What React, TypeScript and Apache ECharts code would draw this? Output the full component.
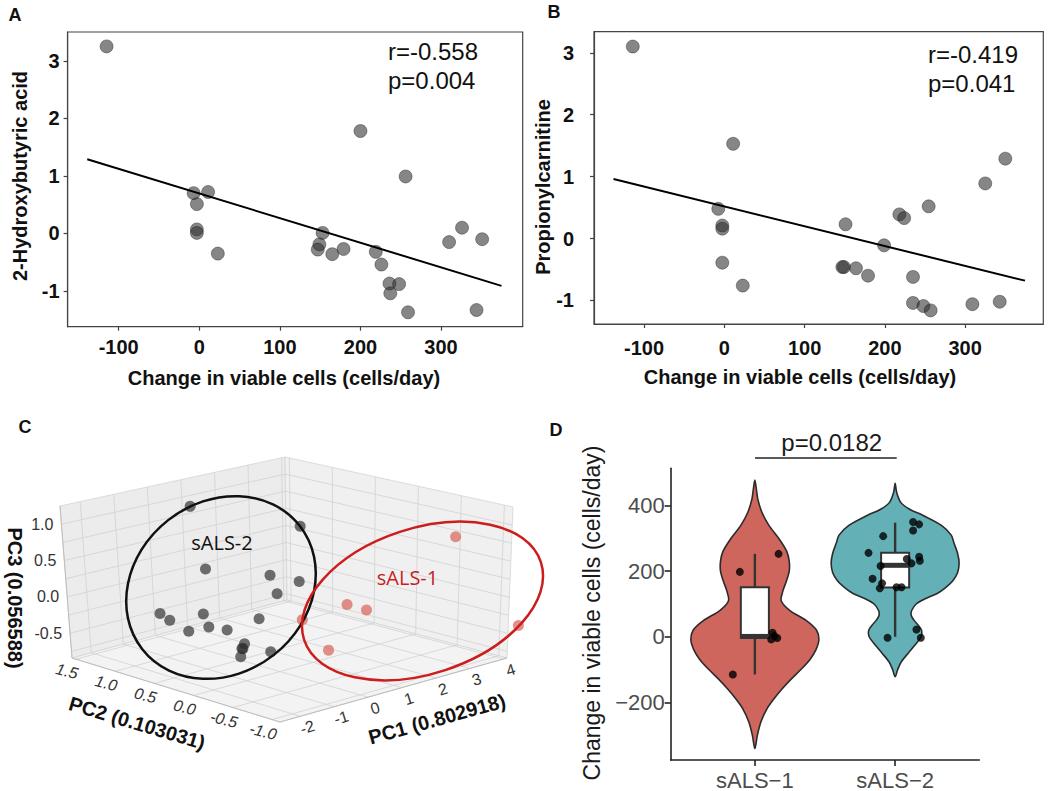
import React, { useEffect, useRef } from 'react';
import * as echarts from 'echarts';

const FONT = '"Liberation Sans", Arial, sans-serif';
const FONT2 = '"Open Sans", "Noto Sans", sans-serif';

// ---------------- Panel A ----------------
const A_X = [-115, 200, 256, -7, 11, -3, -3, -3, 23, 153, 149, 147, 165, 179, 219, 226, 236, 248, 237, 259, 310, 326, 351, 344];
const A_Y = [3.25, 1.78, 0.99, 0.7, 0.72, 0.51, 0.07, 0.01, -0.35, 0.01, -0.19, -0.28, -0.36, -0.27, -0.32, -0.54, -0.87, -0.88, -1.04, -1.37, -0.15, 0.1, -0.1, -1.33];
const A_FIT_X = [-139, 375];
const A_FIT_Y = [1.29, -0.91];
const A_X_TICKS = [-100, 0, 100, 200, 300];
const A_Y_TICKS = [-1, 0, 1, 2, 3];
const A_STATS = ['r=-0.558', 'p=0.004'];
const A_YNAME = '2-Hydroxybutyric acid';

// ---------------- Panel B ----------------
const B_X = [-114, 11, -7.5, -2.5, -2.5, -2.5, 23, 151, 147, 149, 164, 179, 199, 218, 224, 254.5, 235, 235, 248, 257, 309, 343, 325, 350];
const B_Y = [3.1, 1.53, 0.48, 0.21, 0.16, -0.39, -0.76, 0.23, -0.46, -0.46, -0.48, -0.6, -0.11, 0.39, 0.33, 0.52, -0.62, -1.04, -1.09, -1.16, -1.06, -1.02, 0.89, 1.29];
const B_FIT_X = [-138, 374.5];
const B_FIT_Y = [0.96, -0.68];
const B_X_TICKS = [-100, 0, 100, 200, 300];
const B_Y_TICKS = [-1, 0, 1, 2, 3];
const B_STATS = ['r=-0.419', 'p=0.041'];
const B_YNAME = 'Propionylcarnitine';
const XNAME = 'Change in viable cells (cells/day)';

// ---------------- Panel C (3D PCA) ----------------
const SALS2_PC1 = [0.6, 0.56, -1.59, 0.3, 1.16, 0.5, -1.73, -1.45, -1.7, -1.55, -2.15, -1.01, -0.05, -1.76, -1.81, -1.85, -1.88, -0.99];
const SALS2_PC2 = [1.29, -0.04, 0.225, 0.225, 0.225, 0.225, 0.755, 0.755, 0.225, 0.225, 0.225, 0.225, 0.225, -0.305, -0.305, -0.31, -0.305, -0.305];
const SALS2_PC3 = [0.99, 1.1, 0.68, 0.38, 0.19, 0.1, -0.075, -0.2, 0.08, -0.115, -0.1, -0.22, -0.18, -0.15, -0.21, -0.2, -0.31, -0.35];
const SALS1_PC1 = [1.24, 1.93, 2.51, 0.09, 4.4, 3.79];
const SALS1_PC2 = [0.225, -0.04, -0.04, -0.57, -1.1, -0.57];
const SALS1_PC3 = [-0.35, -0.14, -0.29, -0.38, -0.43, 0.73];
const PC1_RANGE = [-2.6, 4.1];
const PC2_RANGE = [-1.1, 1.55];
const PC3_RANGE = [-0.84, 1.25];
const PC1_TICKS = [-2, -1, 0, 1, 2, 3, 4];
const PC2_TICKS = [1.5, 1.0, 0.5, 0.0, -0.5, -1.0];
const PC3_TICKS = [-0.5, 0.0, 0.5, 1.0];
const PC1_GRID = [-2, -1, 0, 1, 2, 3, 4];
const PC2_GRID = [-1.0, -0.5, 0.0, 0.5, 1.0, 1.5];
const PC3_GRID = [-0.75, -0.5, -0.25, 0, 0.25, 0.5, 0.75, 1.0];
const PC1_NAME = 'PC1 (0.802918)';
const PC2_NAME = 'PC2 (0.103031)';
const PC3_NAME = 'PC3 (0.056588)';

// ---------------- Panel D (violin) ----------------
const D_GROUPS = ['sALS\u22121', 'sALS\u22122'];
const D_Y_TICKS = [-200, 0, 200, 400];
const VIOLIN1_Y = [478, 450, 420, 380, 340, 300, 260, 230, 200, 170, 140, 110, 80, 50, 20, -10, -40, -70, -100, -130, -160, -190, -220, -260, -300, -341];
const VIOLIN1_W = [0, 0.011, 0.021, 0.05, 0.1, 0.171, 0.228, 0.245, 0.245, 0.225, 0.2, 0.188, 0.25, 0.365, 0.44, 0.456, 0.435, 0.392, 0.328, 0.257, 0.192, 0.135, 0.086, 0.043, 0.018, 0];
const VIOLIN2_Y = [468, 440, 410, 390, 370, 340, 310, 285, 255, 225, 195, 170, 150, 132, 115, 100, 80, 65, 50, 35, 20, 0, -26, -50, -77, -100, -122];
const VIOLIN2_W = [0, 0.011, 0.04, 0.1, 0.2, 0.33, 0.4, 0.42, 0.445, 0.456, 0.445, 0.41, 0.36, 0.3, 0.21, 0.15, 0.118, 0.115, 0.135, 0.165, 0.188, 0.185, 0.14, 0.093, 0.043, 0.018, 0];
const BOX1 = [-115, -3, 1, 151, 253]; // min, q1, median, q3, max
const BOX2 = [0, 150, 218, 256, 348];
const D1_X = [0.843, 0.893, 1.169, 1.126, 1.117, 1.16, 1.14];
const D1_Y = [-115, 198, 253, 12, -8, -4, 2];
const D2_X = [1.81, 1.915, 1.839, 1.907, 1.891, 1.896, 2.01, 2.046, 2.128, 2.171, 2.128, 2.083, 2.117, 2.171, 2.176, 2.152, 2.183, 1.946];
const D2_Y = [256, 307, 177, 163, 148, 216, 151, 151, 350, 343, 324, 237, 224, 244, 232, 22, -3, -3];
const D_YNAME = 'Change in viable cells (cells/day)';
const D_PVAL = 'p=0.0182';
const VIOLIN_COLORS = ['#cf665e', '#63b1b7'];

const zip = (xs: number[], ys: number[]) => xs.map((x, i) => [x, ys[i]]);

// 3D box corners (panel-C local frame, px) used by the projection
const C_CORNERS: Record<string, number[]> = {
  f0: [280, 322], r0: [507, 258], l0: [72, 258], b0: [287, 200],
  f1: [279, 164], r1: [513, 107], l1: [60, 106], b1: [285, 57],
};

function project(p1: number, p2: number, p3: number) {
  const u = (p1 - PC1_RANGE[0]) / (PC1_RANGE[1] - PC1_RANGE[0]);
  const v = (p2 - PC2_RANGE[0]) / (PC2_RANGE[1] - PC2_RANGE[0]);
  const w = (p3 - PC3_RANGE[0]) / (PC3_RANGE[1] - PC3_RANGE[0]);
  const k = C_CORNERS;
  const bl = (i: number, a: number[], b: number[], c: number[], d: number[]) =>
    a[i] * (1 - u) * (1 - v) + b[i] * u * (1 - v) + c[i] * (1 - u) * v + d[i] * u * v;
  const x0 = bl(0, k.f0, k.r0, k.l0, k.b0);
  const y0 = bl(1, k.f0, k.r0, k.l0, k.b0);
  const x1 = bl(0, k.f1, k.r1, k.l1, k.b1);
  const y1 = bl(1, k.f1, k.r1, k.l1, k.b1);
  return [x0 + (x1 - x0) * w, y0 + (y1 - y0) * w];
}

function txt(x: number, y: number, text: string, o: any = {}) {
  const align = o.align || 'center';
  const va = o.va || 'middle';
  return {
    type: 'text', x, y, rotation: o.rotation || 0, z: 100,
    style: {
      text, fill: o.fill || '#111', fontSize: o.size || 16, fontWeight: o.weight || 'normal',
      fontStyle: o.style || 'normal', fontFamily: o.family || FONT,
      align, verticalAlign: va, textAlign: align, textVerticalAlign: va,
    },
  };
}

function scatterAxis(grid: number, min: number, max: number, ticks: number[], margin: number) {
  return {
    type: 'value', gridIndex: grid, min, max,
    axisLine: { show: true, onZero: false, lineStyle: { color: '#444', width: 1.2 } },
    axisTick: { show: true, customValues: ticks, length: 4, lineStyle: { color: '#444', width: 1.2 } },
    axisLabel: { customValues: ticks, margin, fontSize: 20, fontWeight: 'bold', color: '#111', fontFamily: FONT },
    splitLine: { show: false },
  };
}

const minus = (v: number) => (v < 0 ? '\u2212' + Math.abs(v) : String(v));

function buildOption(): any {
  const lo1 = PC1_RANGE[0], hi1 = PC1_RANGE[1];
  const lo2 = PC2_RANGE[0], hi2 = PC2_RANGE[1];
  const lo3 = PC3_RANGE[0], hi3 = PC3_RANGE[1];

  const boxRender = (params: any, api: any) => {
    const P = (a: number, b: number, c: number) => api.coord(project(a, b, c));
    const children: any[] = [];
    const poly = (pts: number[][], fill: string) =>
      children.push({ type: 'polygon', shape: { points: pts }, style: { fill, stroke: '#d4d4d4', lineWidth: 0.8 } });
    const seg = (p: number[], q: number[]) =>
      children.push({ type: 'line', shape: { x1: p[0], y1: p[1], x2: q[0], y2: q[1] }, style: { stroke: '#d2d2d2', lineWidth: 0.8 } });
    poly([P(lo1, hi2, lo3), P(hi1, hi2, lo3), P(hi1, hi2, hi3), P(lo1, hi2, hi3)], '#ececec');
    poly([P(hi1, hi2, lo3), P(hi1, lo2, lo3), P(hi1, lo2, hi3), P(hi1, hi2, hi3)], '#f0f0f0');
    poly([P(lo1, lo2, lo3), P(hi1, lo2, lo3), P(hi1, hi2, lo3), P(lo1, hi2, lo3)], '#f3f3f3');
    PC1_GRID.forEach((g) => { seg(P(g, lo2, lo3), P(g, hi2, lo3)); seg(P(g, hi2, lo3), P(g, hi2, hi3)); });
    PC2_GRID.forEach((g) => { seg(P(lo1, g, lo3), P(hi1, g, lo3)); seg(P(hi1, g, lo3), P(hi1, g, hi3)); });
    PC3_GRID.forEach((g) => { seg(P(lo1, hi2, g), P(hi1, hi2, g)); seg(P(hi1, hi2, g), P(hi1, lo2, g)); });
    const edge = (p: number[], q: number[]) =>
      children.push({ type: 'line', shape: { x1: p[0], y1: p[1], x2: q[0], y2: q[1] }, style: { stroke: '#bdbdbd', lineWidth: 1 } });
    edge(P(lo1, lo2, lo3), P(hi1, lo2, lo3));
    edge(P(lo1, lo2, lo3), P(lo1, hi2, lo3));
    edge(P(lo1, hi2, lo3), P(lo1, hi2, hi3));
    PC3_TICKS.forEach((t) => {
      const p = P(lo1, hi2, t);
      children.push(txt(p[0] - 8, p[1], t.toFixed(1), { align: 'right', size: 16, fill: '#333' }));
    });
    PC2_TICKS.forEach((t) => {
      const p = P(lo1, t, lo3);
      children.push(txt(p[0] - 9, p[1] + 12, t.toFixed(1), { size: 16, fill: '#333', style: 'italic', rotation: -0.25 }));
    });
    PC1_TICKS.forEach((t) => {
      const p = P(t, lo2, lo3);
      children.push(txt(p[0] + 7, p[1] + 11, String(t), { size: 16, fill: '#333', rotation: 0.3 }));
    });
    return { type: 'group', children };
  };

  const violinRender = (params: any, api: any) => {
    const cx = api.value(0);
    const gi = api.value(1);
    const ys = gi === 0 ? VIOLIN1_Y : VIOLIN2_Y;
    const ws = gi === 0 ? VIOLIN1_W : VIOLIN2_W;
    const right = ys.map((y, i) => api.coord([cx + ws[i], y]));
    const left: number[][] = [];
    for (let i = ys.length - 2; i >= 1; i--) left.push(api.coord([cx - ws[i], ys[i]]));
    return {
      type: 'polygon',
      shape: { points: right.concat(left), smooth: 0.3 },
      style: { fill: VIOLIN_COLORS[gi], stroke: '#2b2b2b', lineWidth: 1.6 },
    };
  };

  const boxplotRender = (params: any, api: any) => {
    const x = api.value(0);
    const mn = api.value(1), q1 = api.value(2), md = api.value(3), q3 = api.value(4), mx = api.value(5);
    const half = 0.1;
    const tl = api.coord([x - half, q3]);
    const br = api.coord([x + half, q1]);
    const top = api.coord([x, mx]);
    const bot = api.coord([x, mn]);
    const m1 = api.coord([x - half, md]);
    const m2 = api.coord([x + half, md]);
    const ln = (a: number[], b: number[], w: number) => ({
      type: 'line', shape: { x1: a[0], y1: a[1], x2: b[0], y2: b[1] }, style: { stroke: '#333', lineWidth: w },
    });
    return {
      type: 'group',
      children: [
        ln(top, [top[0], tl[1]], 2.4),
        ln([bot[0], br[1]], bot, 2.4),
        { type: 'rect', shape: { x: tl[0], y: tl[1], width: br[0] - tl[0], height: br[1] - tl[1] }, style: { fill: '#fff', stroke: '#333', lineWidth: 2 } },
        ln(m1, m2, 5),
      ],
    };
  };

  const graphic: any[] = [
    txt(15, 15, 'A', { size: 18, weight: 'bold' }),
    txt(554, 12, 'B', { size: 18, weight: 'bold' }),
    txt(25, 427, 'C', { size: 18, weight: 'bold' }),
    txt(556, 430, 'D', { size: 18, weight: 'bold' }),
    txt(20, 176, A_YNAME, { size: 20, weight: 'bold', rotation: Math.PI / 2 }),
    txt(284, 378, XNAME, { size: 20, weight: 'bold' }),
    txt(388, 51, A_STATS[0], { size: 24, align: 'left' }),
    txt(388, 80, A_STATS[1], { size: 24, align: 'left' }),
    txt(543, 187, B_YNAME, { size: 20, weight: 'bold', rotation: Math.PI / 2 }),
    txt(800, 377, XNAME, { size: 20, weight: 'bold' }),
    txt(928, 54, B_STATS[0], { size: 24, align: 'left' }),
    txt(928, 83, B_STATS[1], { size: 24, align: 'left' }),
    { type: 'ellipse', x: 221, y: 587.5, rotation: 0.665, z: 50, shape: { cx: 0, cy: 0, rx: 100, ry: 85.6 }, style: { fill: 'none', stroke: '#111', lineWidth: 2.5 } },
    { type: 'ellipse', x: 422.5, y: 601, rotation: 0.317, z: 50, shape: { cx: 0, cy: 0, rx: 124.6, ry: 72.7 }, style: { fill: 'none', stroke: '#cc1c1c', lineWidth: 2.5 } },
    txt(222, 542, 'sALS-2', { size: 20, family: FONT2, fill: '#111' }),
    txt(407.5, 577, 'sALS-1', { size: 20, family: FONT2, fill: '#c81e1e' }),
    txt(15, 598, PC3_NAME, { size: 20, weight: 'bold', rotation: -Math.PI / 2 }),
    txt(137, 723, PC2_NAME, { size: 20, weight: 'bold', rotation: -0.29 }),
    txt(437, 719, PC1_NAME, { size: 20, weight: 'bold', rotation: 0.27 }),
    txt(591.7, 613, D_YNAME, { size: 23, fill: '#1a1a1a', rotation: Math.PI / 2 }),
    txt(831.7, 442, D_PVAL, { size: 24, fill: '#1a1a1a' }),
    { type: 'line', z: 100, shape: { x1: 755, y1: 458, x2: 896.7, y2: 458 }, style: { stroke: '#222', lineWidth: 1.5 } },
  ];

  return {
    animation: false,
    backgroundColor: '#fff',
    grid: [
      { left: 67.6, top: 32, width: 455.1, height: 294.7, show: true, borderColor: '#444', borderWidth: 1.2, backgroundColor: 'transparent' },
      { left: 594, top: 31.7, width: 449.3, height: 292.3, show: true, borderColor: '#444', borderWidth: 1.2, backgroundColor: 'transparent' },
      { left: 670.7, top: 468.3, width: 308.6, height: 291.7 },
      { left: 0, top: 400, width: 560, height: 391 },
    ],
    xAxis: [
      scatterAxis(0, -163.4, 401.3, A_X_TICKS, 10),
      scatterAxis(1, -162.3, 397.3, B_X_TICKS, 14),
      {
        type: 'value', gridIndex: 2, min: 0.4, max: 2.6,
        axisLine: { show: true, onZero: false, lineStyle: { color: '#222', width: 1.6 } },
        axisTick: { show: true, customValues: [1, 2], length: 6, lineStyle: { color: '#222', width: 1.6 } },
        axisLabel: { customValues: [1, 2], formatter: (v: number) => D_GROUPS[Math.round(v) - 1], margin: 9, fontSize: 22, color: '#4d4d4d', fontFamily: FONT },
        splitLine: { show: false },
      },
      { type: 'value', gridIndex: 3, min: 0, max: 560, show: false },
    ],
    yAxis: [
      scatterAxis(0, -1.62, 3.5, A_Y_TICKS, 8),
      scatterAxis(1, -1.38, 3.34, B_Y_TICKS, 20),
      {
        type: 'value', gridIndex: 2, min: -376, max: 514,
        axisLine: { show: true, onZero: false, lineStyle: { color: '#222', width: 1.6 } },
        axisTick: { show: true, customValues: D_Y_TICKS, length: 6, lineStyle: { color: '#222', width: 1.6 } },
        axisLabel: { customValues: D_Y_TICKS, formatter: minus, margin: 6, fontSize: 22, color: '#4d4d4d', fontFamily: FONT },
        splitLine: { show: false },
      },
      { type: 'value', gridIndex: 3, min: 0, max: 391, inverse: true, show: false },
    ],
    series: [
      {
        type: 'scatter', xAxisIndex: 0, yAxisIndex: 0, data: zip(A_X, A_Y), symbolSize: 13, z: 2,
        itemStyle: { color: 'rgba(45,45,45,0.72)', borderColor: 'rgba(20,20,20,0.6)', borderWidth: 0.8 },
      },
      {
        type: 'line', xAxisIndex: 0, yAxisIndex: 0, data: zip(A_FIT_X, A_FIT_Y), showSymbol: false, symbol: 'none', z: 3,
        lineStyle: { color: '#000', width: 2 },
      },
      {
        type: 'scatter', xAxisIndex: 1, yAxisIndex: 1, data: zip(B_X, B_Y), symbolSize: 13, z: 2,
        itemStyle: { color: 'rgba(45,45,45,0.72)', borderColor: 'rgba(20,20,20,0.6)', borderWidth: 0.8 },
      },
      {
        type: 'line', xAxisIndex: 1, yAxisIndex: 1, data: zip(B_FIT_X, B_FIT_Y), showSymbol: false, symbol: 'none', z: 3,
        lineStyle: { color: '#000', width: 2 },
      },
      { type: 'custom', xAxisIndex: 3, yAxisIndex: 3, data: [[0, 0]], renderItem: boxRender, z: 1, silent: true },
      {
        type: 'scatter', xAxisIndex: 3, yAxisIndex: 3, symbolSize: 11, z: 4,
        data: SALS2_PC1.map((p, i) => project(p, SALS2_PC2[i], SALS2_PC3[i])),
        itemStyle: { color: 'rgba(45,45,45,0.85)' },
      },
      {
        type: 'scatter', xAxisIndex: 3, yAxisIndex: 3, symbolSize: 11, z: 4,
        data: SALS1_PC1.map((p, i) => project(p, SALS1_PC2[i], SALS1_PC3[i])),
        itemStyle: { color: 'rgba(214,98,88,0.88)' },
      },
      { type: 'custom', xAxisIndex: 2, yAxisIndex: 2, data: [[1, 0], [2, 1]], renderItem: violinRender, z: 1 },
      {
        type: 'custom', xAxisIndex: 2, yAxisIndex: 2, data: [[1, ...BOX1], [2, ...BOX2]], renderItem: boxplotRender, z: 2,
        encode: { x: 0, y: [1, 2, 3, 4, 5] },
      },
      { type: 'scatter', xAxisIndex: 2, yAxisIndex: 2, data: zip(D1_X, D1_Y), symbolSize: 8, z: 5, itemStyle: { color: '#000' } },
      { type: 'scatter', xAxisIndex: 2, yAxisIndex: 2, data: zip(D2_X, D2_Y), symbolSize: 8, z: 5, itemStyle: { color: '#000' } },
    ],
    graphic,
  };
}

export default function App() {
  const ref = useRef<HTMLDivElement>(null);
  useEffect(() => {
    const chart = echarts.init(ref.current as HTMLDivElement, null, { renderer: 'svg' });
    chart.setOption(buildOption());
    return () => chart.dispose();
  }, []);
  return (
    <div
      ref={ref}
      style={{ position: 'absolute', left: 0, top: 0, width: 1050, height: 791, background: '#fff' }}
    />
  );
}
